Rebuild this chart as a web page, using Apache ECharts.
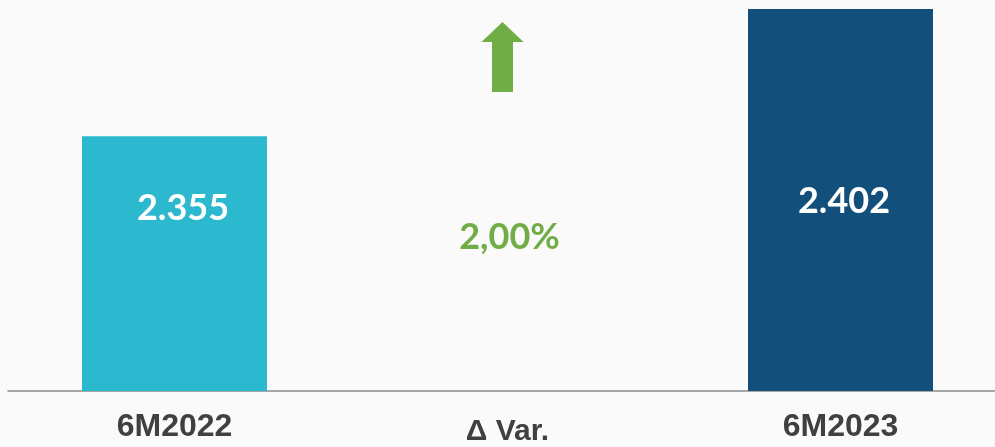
<!DOCTYPE html>
<html>
<head>
<meta charset="utf-8">
<script src="https://cdn.jsdelivr.net/npm/echarts@6/dist/echarts.min.js"></script>
<style>
  html, body { margin: 0; padding: 0; background: #fafafa; }
  #chart { width: 995px; height: 447px; }
</style>
</head>
<body>
<div id="chart"></div>
<script>
// data
const categories = ["6M2022", "Δ Var.", "6M2023"];
const values = [2355, null, 2402];
const valueLabels = ["2.355", "", "2.402"];
const variation = "2,00%";
const barColors = ["#2cb8ce", "#12507b"];

let chart = echarts.init(document.getElementById("chart"));

let barData = values.map((v, i) => {
  if (v === null) return "-";
  let first = i === 0;
  return {
    value: v,
    itemStyle: { color: first ? barColors[0] : barColors[1] },
    label: {
      show: true,
      formatter: valueLabels[i],
      position: first ? [101, 72] : [96, 192],
    },
  };
});

// arrow + percentage sit on the middle category, anchored at the axis max
let varData = categories.map((c, i) => (values[i] === null ? Math.max(...values.filter((v) => v !== null)) : "-"));

let option = {
  backgroundColor: "#fafafa",
  animation: false,
  grid: { left: 8, right: -12, top: 9, bottom: 56, outerBoundsMode: "none", containLabel: false },
  xAxis: {
    type: "category",
    data: categories,
    axisTick: { show: false },
    axisLine: { lineStyle: { color: "#8a8a8a", width: 1.5 } },
    axisLabel: {
      margin: 20,
      color: "#404040",
      fontFamily: "Liberation Sans",
      fontWeight: "bold",
      fontSize: 32,
      formatter: function (value) {
        return value.indexOf("Var") >= 0 ? "{v|" + value + "}" : value;
      },
      rich: {
        v: {
          color: "#404040",
          fontFamily: "Liberation Sans",
          fontWeight: "bold",
          fontSize: 30,
          padding: [6, 0, 0, 0],
        },
      },
    },
  },
  yAxis: {
    type: "value",
    min: 2261,
    max: 2402,
    show: false,
    splitLine: { show: false },
  },
  series: [
    {
      type: "bar",
      data: barData,
      barWidth: 185,
      label: {
        color: "#ffffff",
        fontFamily: "Lato",
        fontWeight: "bold",
        fontSize: 36,
        align: "center",
        verticalAlign: "middle",
      },
    },
    {
      type: "scatter",
      data: varData,
      symbol: "path://M21,0 L42,20 L31.5,20 L31.5,70 L10.5,70 L10.5,20 L0,20 Z",
      symbolSize: [42, 70],
      symbolOffset: [-5, 48],
      itemStyle: { color: "#70ad47", opacity: 1 },
      z: 5,
    },
    {
      type: "scatter",
      data: varData,
      symbolSize: 0,
      itemStyle: { opacity: 1 },
      label: {
        show: true,
        position: "inside",
        offset: [2, 228],
        formatter: variation,
        color: "#70ad47",
        fontFamily: "Lato",
        fontWeight: "bold",
        fontSize: 36,
      },
      z: 5,
    },
  ],
};
chart.setOption(option);
</script>
</body>
</html>
